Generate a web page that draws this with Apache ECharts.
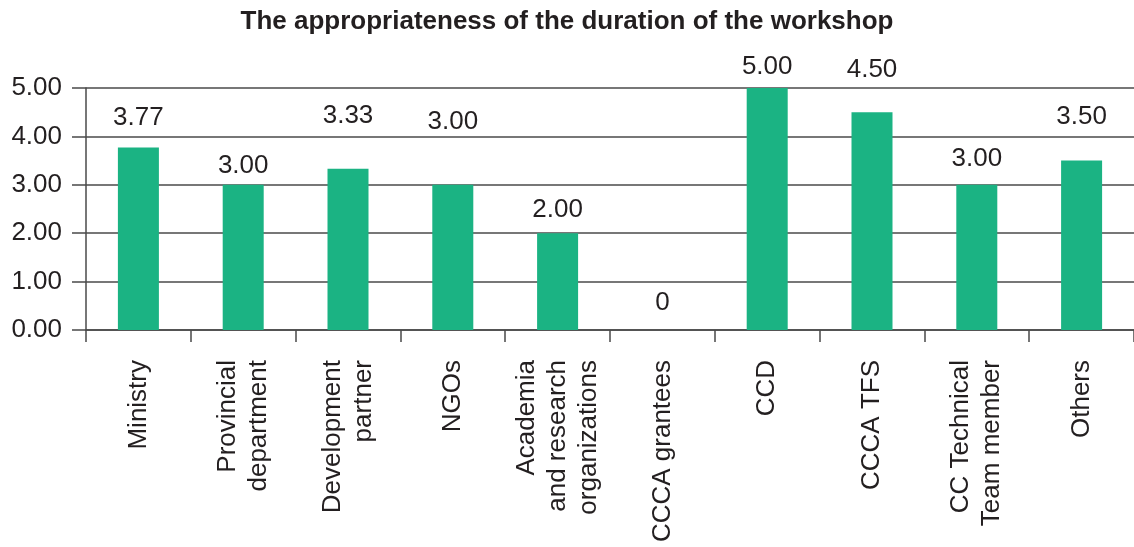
<!DOCTYPE html>
<html>
<head>
<meta charset="utf-8">
<script src="https://cdn.jsdelivr.net/npm/echarts@6/dist/echarts.min.js"></script>
<style>
  html, body { margin: 0; padding: 0; background: #fff; }
  #chart { width: 1134px; height: 547px; }
</style>
</head>
<body>
<div id="chart"></div>
<script>
// Respondent groups (line breaks as printed under the axis)
const categories = [
  'Ministry',
  'Provincial\ndepartment',
  'Development\npartner',
  'NGOs',
  'Academia\nand research\norganizations',
  'CCCA grantees',
  'CCD',
  'CCCA TFS',
  'CC Technical\nTeam member',
  'Others'
];

// Mean rating of the workshop duration per group
const ratings = [3.77, 3.00, 3.33, 3.00, 2.00, 0, 5.00, 4.50, 3.00, 3.50];

// Y-axis tick values
const yTicks = [0, 1, 2, 3, 4, 5];

// Vertical nudge (px) of each value label above its bar
const labelLift = [-12, -1, -35, -45, -5, -9, -3, -24, -8, -26];

const TEXT = '#231f20';
const LINE = '#4a4a4a';
const BAR = '#1bb383';
const FONT = '"Liberation Sans", Arial, Helvetica, sans-serif';

const chart = echarts.init(document.getElementById('chart'), null, { renderer: 'canvas' });

chart.setOption({
  animation: false,
  backgroundColor: '#ffffff',
  textStyle: { fontFamily: FONT, color: TEXT },
  title: {
    text: 'The appropriateness of the duration of the workshop',
    left: 'center',
    top: 4,
    textStyle: { fontFamily: FONT, fontWeight: 'bold', fontSize: 26, color: TEXT }
  },
  grid: { left: 86, top: 88, width: 1051, height: 242, containLabel: false },
  xAxis: {
    type: 'category',
    data: categories,
    boundaryGap: true,
    axisLine: { show: true, lineStyle: { color: LINE, width: 1.5 } },
    axisTick: { show: true, length: 12, alignWithLabel: false, lineStyle: { color: LINE, width: 1.5 } },
    axisLabel: {
      rotate: 90,
      interval: 0,
      margin: 30,
      fontSize: 26,
      lineHeight: 31,
      fontFamily: FONT,
      color: TEXT
    },
    splitLine: { show: false }
  },
  yAxis: {
    type: 'value',
    min: yTicks[0],
    max: yTicks[yTicks.length - 1],
    interval: 1,
    axisLine: { show: true, lineStyle: { color: LINE, width: 1.5 } },
    axisTick: { show: true, length: 14, lineStyle: { color: LINE, width: 1.5 } },
    axisLabel: {
      margin: 24,
      fontSize: 26,
      fontFamily: FONT,
      color: TEXT,
      formatter: v => v.toFixed(2)
    },
    splitLine: { show: true, lineStyle: { color: LINE, width: 1.5 } }
  },
  series: [{
    type: 'bar',
    barWidth: 41,
    itemStyle: { color: BAR },
    data: ratings.map((v, i) => ({
      value: v,
      label: { offset: [0, labelLift[i]] }
    })),
    label: {
      show: true,
      position: 'top',
      distance: 5,
      fontSize: 26,
      fontFamily: FONT,
      color: TEXT,
      formatter: p => (p.value === 0 ? '0' : p.value.toFixed(2))
    }
  }]
});
</script>
</body>
</html>
